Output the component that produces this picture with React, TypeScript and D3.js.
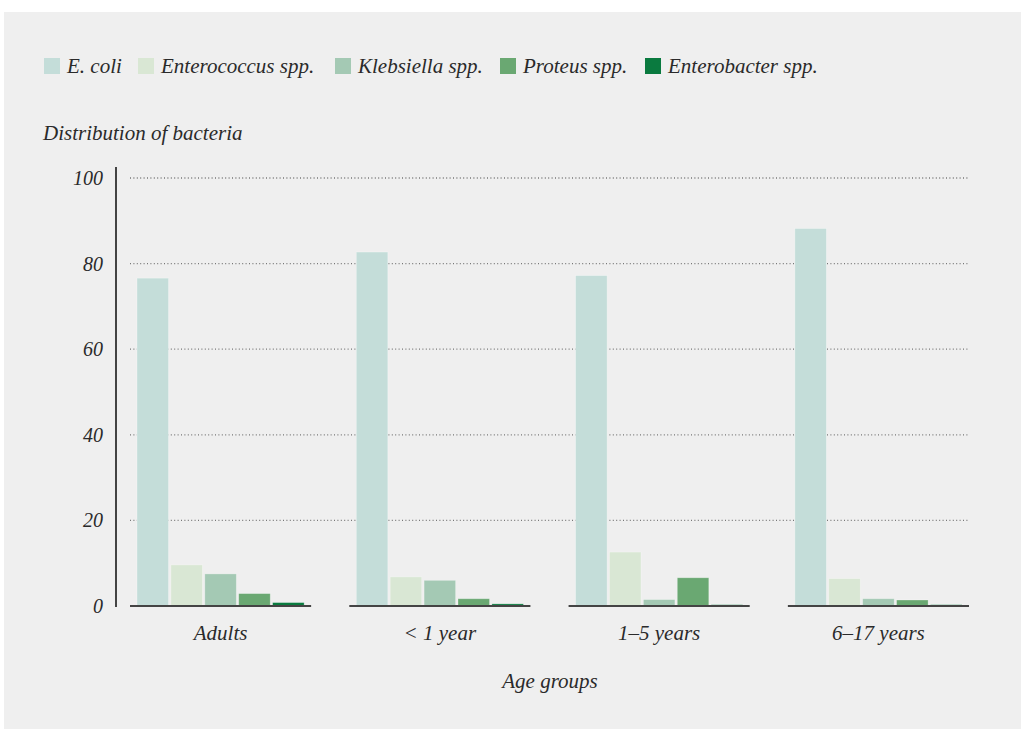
import React from "react";
import * as d3 from "d3";

const groups = ["Adults", "< 1 year", "1–5 years", "6–17 years"];
const seriesNames = ["E. coli", "Enterococcus spp.", "Klebsiella spp.", "Proteus spp.", "Enterobacter spp."];
const seriesColors = ["#c4ddd9", "#d9e7d4", "#a4c9b4", "#6aa872", "#0a7a3f"];
const eColi = [76.6, 82.7, 77.2, 88.2];
const enterococcus = [9.6, 6.8, 12.6, 6.4];
const klebsiella = [7.5, 6.0, 1.5, 1.7];
const proteus = [2.9, 1.7, 6.6, 1.4];
const enterobacter = [0.8, 0.5, 0.3, 0.3];
const yTicks = [0, 20, 40, 60, 80, 100];
const legendX = [44, 138, 335, 500, 645];

const seriesValues = [eColi, enterococcus, klebsiella, proteus, enterobacter];

const FONT = "'Liberation Serif', serif";
const FS = 21;

export default function App() {
  const W = 1021, H = 729;
  const y = d3.scaleLinear().domain([0, 100]).range([606, 178]);
  const x0 = d3.scaleBand<string>().domain(groups).range([130, 969]).paddingInner(0.174).paddingOuter(0);
  const bw = x0.bandwidth();
  const x1 = d3.scaleBand<string>().domain(seriesNames).range([7, bw - 7]).paddingInner(0.07).paddingOuter(0);

  return (
    <svg width={W} height={H} style={{ position: "absolute", left: 0, top: 0 }} fontFamily={FONT}>
      <rect x={4} y={12} width={W - 4} height={H - 12} fill="#efefef" />
      {seriesNames.map((s, i) => (
        <g key={s} transform={`translate(${legendX[i]},0)`}>
          <rect x={0} y={58} width={16} height={16} fill={seriesColors[i]} />
          <text x={23} y={73} fontSize={FS} fontStyle="italic" fill="#2a2a2a">{s}</text>
        </g>
      ))}
      <text x={43} y={140} fontSize={FS} fontStyle="italic" fill="#2a2a2a">Distribution of bacteria</text>
      {yTicks.filter(t => t > 0).map(t => (
        <line key={t} x1={130} x2={969} y1={y(t)} y2={y(t)} stroke="#777" strokeWidth={1.3} strokeDasharray="1 2.4" />
      ))}
      {yTicks.map(t => (
        <text key={t} x={103} y={y(t) + 7} textAnchor="end" fontSize={20} fontStyle="italic" fill="#2a2a2a">{t}</text>
      ))}
      {groups.map((g, gi) => (
        <g key={g} transform={`translate(${x0(g)},0)`}>
          {seriesNames.map((s, si) => {
            const v = seriesValues[si][gi];
            return (
              <rect key={s} x={x1(s)} y={y(v)} width={x1.bandwidth()} height={y(0) - y(v)}
                fill={seriesColors[si]} stroke="#ffffff" strokeOpacity={0.35} strokeWidth={0.8} />
            );
          })}
          <line x1={0} x2={bw} y1={606} y2={606} stroke="#444" strokeWidth={2} />
          <text x={bw / 2} y={640} textAnchor="middle" fontSize={FS} fontStyle="italic" fill="#2a2a2a">{g}</text>
        </g>
      ))}
      <line x1={116} x2={116} y1={167} y2={607} stroke="#444" strokeWidth={2} />
      <text x={550} y={688} textAnchor="middle" fontSize={FS} fontStyle="italic" fill="#2a2a2a">Age groups</text>
    </svg>
  );
}
